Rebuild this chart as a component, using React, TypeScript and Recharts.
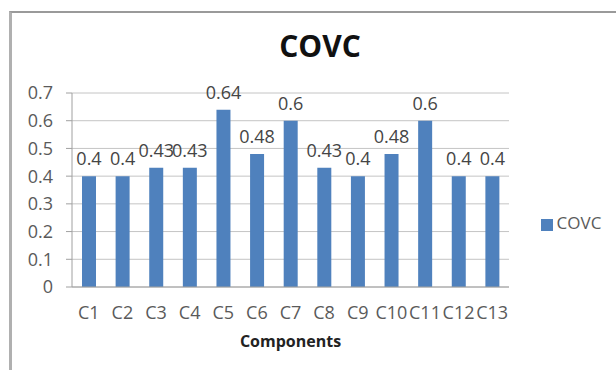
import React from 'react';
import { BarChart, Bar, XAxis, YAxis, CartesianGrid, Legend, LabelList } from 'recharts';

const components = ['C1', 'C2', 'C3', 'C4', 'C5', 'C6', 'C7', 'C8', 'C9', 'C10', 'C11', 'C12', 'C13'];
const covc = [0.4, 0.4, 0.43, 0.43, 0.64, 0.48, 0.6, 0.43, 0.4, 0.48, 0.6, 0.4, 0.4];
const yTicks = [0, 0.1, 0.2, 0.3, 0.4, 0.5, 0.6, 0.7];
// tick marks sit on the boundaries between categories
const edges = components.map((_, i) => i).concat(components.length);

const data = components.map((name, i) => ({ name, COVC: covc[i] }));

const FONT = '"Open Sans", sans-serif';
const BLUE = '#4f81bd';
const GREY_TEXT = '#5a5a5a';

export default function App() {
  return (
    <div
      style={{
        position: 'absolute',
        top: 0,
        left: 0,
        width: 616,
        height: 370,
        overflow: 'hidden',
        background: '#fff',
        fontFamily: FONT,
      }}
    >
      {/* chart frame */}
      <div
        style={{
          position: 'absolute',
          left: 9,
          top: 11,
          width: 700,
          height: 400,
          borderTop: '2px solid #9a9a9a',
          borderLeft: '3px solid #b0b0b0',
        }}
      />
      <div
        style={{
          position: 'absolute',
          left: 220,
          width: 200,
          top: 28,
          textAlign: 'center',
          fontSize: 30,
          fontWeight: 700,
          color: '#111',
          lineHeight: '36px',
        }}
      >
        COVC
      </div>
      <div style={{ position: 'absolute', left: 0, top: 0 }}>
        <BarChart
          width={616}
          height={370}
          data={data}
          margin={{ top: 93, right: 107, bottom: 23, left: 0 }}
        >
          <CartesianGrid vertical={false} stroke="#c4c4c4" />
          <XAxis
            xAxisId="edges"
            type="number"
            domain={[0, components.length]}
            ticks={edges}
            tick={false}
            height={0}
            axisLine={false}
            tickSize={5}
            tickLine={{ stroke: '#a0a0a0' }}
          />
          <XAxis
            dataKey="name"
            height={60}
            interval={0}
            axisLine={{ stroke: '#a0a0a0' }}
            tickLine={false}
            tickSize={6}
            tickMargin={13}
            tick={{ fill: GREY_TEXT, fontSize: 18, fontFamily: FONT }}
            label={{
              value: 'Components',
              position: 'insideBottom',
              offset: 0,
              fill: '#222',
              fontSize: 16,
              fontWeight: 700,
              fontFamily: FONT,
            }}
          />
          <YAxis
            width={72}
            domain={[0, 0.7]}
            ticks={yTicks}
            interval={0}
            axisLine={{ stroke: '#a0a0a0' }}
            tickLine={{ stroke: '#a0a0a0' }}
            tickSize={6}
            tickMargin={13}
            tick={{ fill: GREY_TEXT, fontSize: 18, fontFamily: FONT }}
          />
          <Legend
            layout="horizontal"
            align="center"
            verticalAlign="middle"
            iconType="square"
            iconSize={12}
            wrapperStyle={{ left: 536, top: 211, width: 80, textAlign: 'left' }}
            formatter={(value) => (
              <span style={{ color: GREY_TEXT, fontSize: 17, fontFamily: FONT }}>{value}</span>
            )}
          />
          <Bar dataKey="COVC" fill={BLUE} barSize={14} isAnimationActive={false}>
            <LabelList
              dataKey="COVC"
              position="top"
              offset={11}
              fill="#454545"
              fontSize={18}
              fontFamily={FONT}
            />
          </Bar>
        </BarChart>
      </div>
    </div>
  );
}
